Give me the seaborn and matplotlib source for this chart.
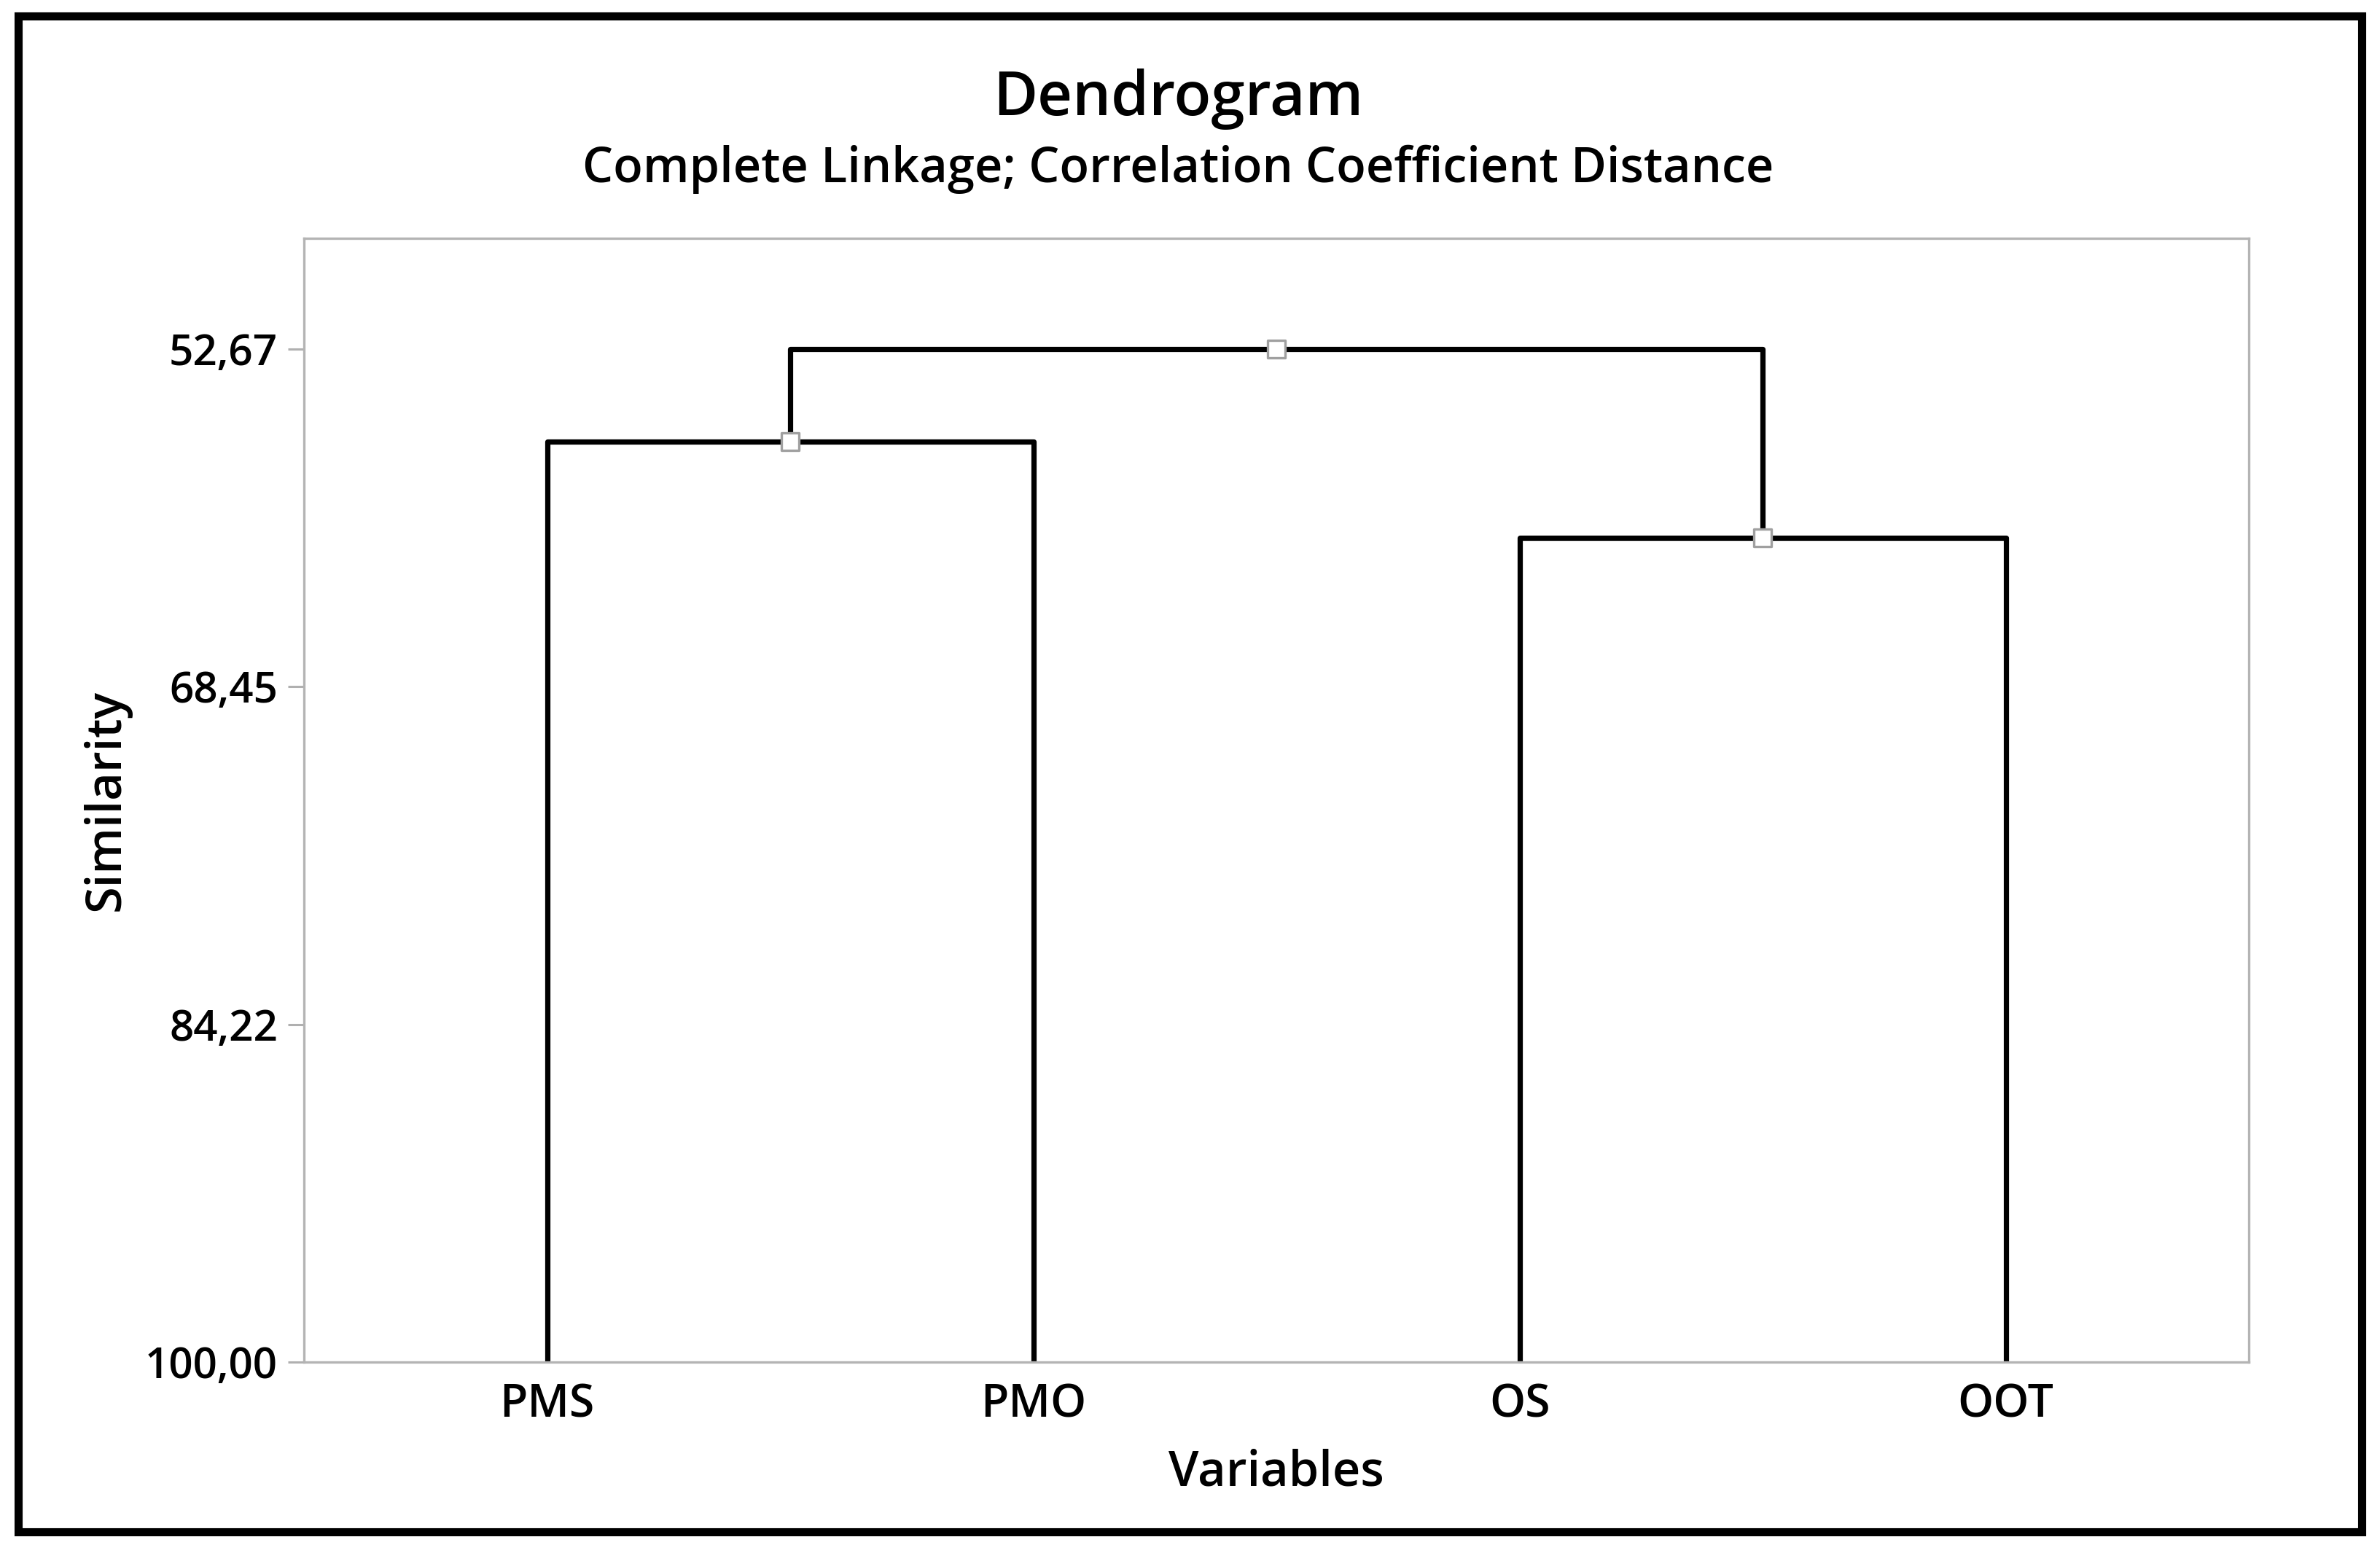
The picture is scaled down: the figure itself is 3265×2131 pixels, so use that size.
import seaborn as sns
import matplotlib.pyplot as plt
import matplotlib.patches as mpatches
import pandas as pd

# leaves in display order and the merges (similarity level of each join)
leaves = ["PMS", "PMO", "OS", "OOT"]
merge_a = ["PMS", "OS", "PMS+PMO"]
merge_b = ["PMO", "OOT", "OS+OOT"]
merge_sim = [57.0, 61.5, 52.67]
ytick_vals = [52.67, 68.45, 84.22, 100.00]

sns.set_style("white")
plt.rcParams['font.family'] = ['Open Sans', 'DejaVu Sans']
plt.rcParams['text.color'] = 'black'
plt.rcParams['axes.labelcolor'] = 'black'
plt.rcParams['xtick.color'] = 'black'
plt.rcParams['ytick.color'] = 'black'

# node positions: leaves at 1..n, similarity 100
pos = {name: (i + 1, 100.0) for i, name in enumerate(leaves)}
rows = []
marks = []
for k, (a, b, s) in enumerate(zip(merge_a, merge_b, merge_sim)):
    xa, ya = pos[a]
    xb, yb = pos[b]
    for order, (x, y) in enumerate([(xa, ya), (xa, s), (xb, s), (xb, yb)]):
        rows.append({"link": k, "order": order, "x": x, "y": y})
    mid = (xa + xb) / 2
    pos[a + "+" + b] = (mid, s)
    marks.append({"x": mid, "y": s})
links = pd.DataFrame(rows)
nodes = pd.DataFrame(marks)

fig = plt.figure(figsize=(16.33, 10.655), dpi=200)
ax = fig.add_axes([0.1277, 0.1229, 0.8169, 0.7236])

sns.lineplot(data=links, x="x", y="y", units="link", estimator=None, sort=False,
             color="black", linewidth=2.6, ax=ax, legend=False)
sns.scatterplot(data=nodes, x="x", y="y", marker="s", s=70, color="white",
                edgecolor="#a0a0a0", linewidth=1.2, ax=ax, zorder=5, legend=False)

ax.set_xlim(0.5, 4.5)
ax.set_ylim(100, 47.5)
ax.set_xticks(range(1, len(leaves) + 1))
ax.set_xticklabels(leaves, fontsize=22.5, fontweight="semibold")
ax.set_yticks(ytick_vals)
ax.set_yticklabels([f"{v:.2f}".replace(".", ",") for v in ytick_vals],
                   fontsize=21, fontweight="semibold")
ax.tick_params(axis="y", direction="out", length=8, width=1.1, color="#b0b0b0", pad=5, left=True)
ax.tick_params(axis="x", length=0, pad=10)
for sp in ax.spines.values():
    sp.set_color("#b4b4b4")
    sp.set_linewidth(1.2)

ax.set_xlabel("Variables", fontsize=24, fontweight="semibold", labelpad=10)
ax.set_ylabel("Similarity", fontsize=24, fontweight="semibold", labelpad=7)

fig.text(0.495, 0.936, "Dendrogram", ha="center", va="center", fontsize=30, fontweight="semibold")
fig.text(0.495, 0.891, "Complete Linkage; Correlation Coefficient Distance",
         ha="center", va="center", fontsize=24, fontweight="semibold")

# outer frame
fig.patches.append(mpatches.Rectangle((0.0077, 0.0136), 0.9843, 0.9761, transform=fig.transFigure,
                                      fill=False, edgecolor="black", linewidth=4))

fig.savefig("out.png", dpi=200)
